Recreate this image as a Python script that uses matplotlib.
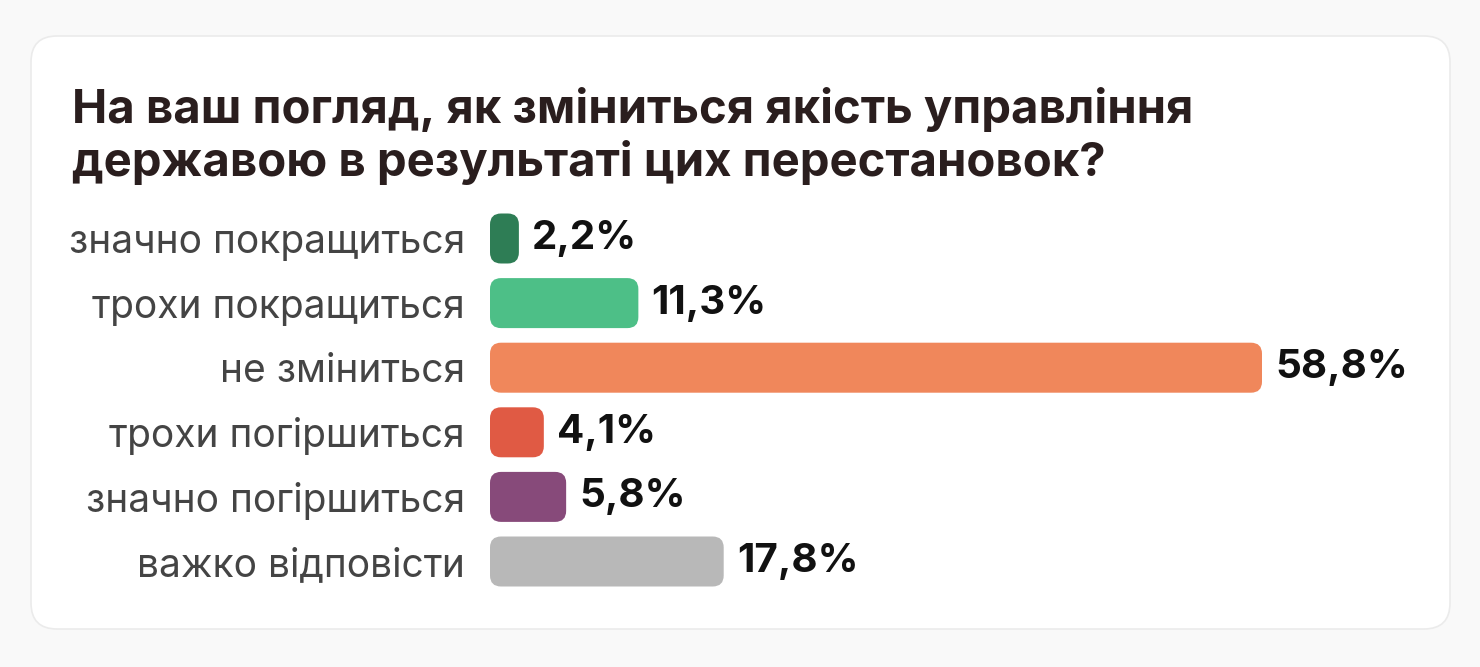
import matplotlib
matplotlib.use("Agg")
import matplotlib.pyplot as plt
from matplotlib.patches import FancyBboxPatch

plt.rcParams['font.family'] = ['Inter', 'DejaVu Sans']

title_lines = ["На ваш погляд, як зміниться якість управління",
               "державою в результаті цих перестановок?"]
categories = ["значно покращиться", "трохи покращиться", "не зміниться",
              "трохи погіршиться", "значно погіршиться", "важко відповісти"]
values = [2.2, 11.3, 58.8, 4.1, 5.8, 17.8]
value_labels = ["2,2%", "11,3%", "58,8%", "4,1%", "5,8%", "17,8%"]
colors = ["#2e7d55", "#4dbf87", "#f0875b", "#e05a44", "#874a7a", "#b8b8b8"]

W, H = 1480, 667
fig = plt.figure(figsize=(W / 100, H / 100), dpi=100)
fig.patch.set_facecolor("#f9f9f9")

# background card, drawn in pixel coords
bg = fig.add_axes([0, 0, 1, 1])
bg.set_xlim(0, W)
bg.set_ylim(H, 0)
bg.axis("off")
card = FancyBboxPatch((31, 36), 1419, 593, boxstyle="round,pad=0,rounding_size=26",
                      facecolor="white", edgecolor="#ebebeb", linewidth=1.2)
bg.add_patch(card)
for line, yb in zip(title_lines, [123, 176]):
    bg.text(72, yb, line, fontsize=34, fontweight="bold", color="#2a1e1e",
            ha="left", va="baseline")

# bars
px_per_unit = (1262 - 490) / 58.8
row_h = 64.6
x0, y_top = 490, 238.5 - row_h / 2
ax = fig.add_axes([x0 / W, 1 - (y_top + 6 * row_h) / H, 60 * px_per_unit / W, 6 * row_h / H])
ax.set_xlim(0, 60)
ax.set_ylim(5.5, -0.5)
ax.set_facecolor("none")
for s in ax.spines.values():
    s.set_visible(False)

bars = ax.barh(range(len(values)), values, height=50 / row_h, color=colors)
r_px = 11
aspect = px_per_unit / row_h
for b, c in zip(bars, colors):
    x, y, w, h = b.get_x(), b.get_y(), b.get_width(), b.get_height()
    b.set_visible(False)
    r = min(r_px, w * px_per_unit / 2) / px_per_unit
    ax.add_patch(FancyBboxPatch((x, y), w, h,
                                boxstyle=f"round,pad=0,rounding_size={r}",
                                mutation_aspect=aspect, facecolor=c, edgecolor="none"))

for i, (v, lab) in enumerate(zip(values, value_labels)):
    ax.text(v + 13 / px_per_unit, i, lab, va="center", ha="left",
            fontsize=29, fontweight="bold", color="#111111")

ax.set_xticks([])
ax.set_yticks(range(len(categories)))
ax.set_yticklabels(categories, fontsize=28, color="#444444")
ax.tick_params(axis="y", length=0, pad=18)

fig.savefig("out.png", dpi=100, facecolor=fig.get_facecolor())
